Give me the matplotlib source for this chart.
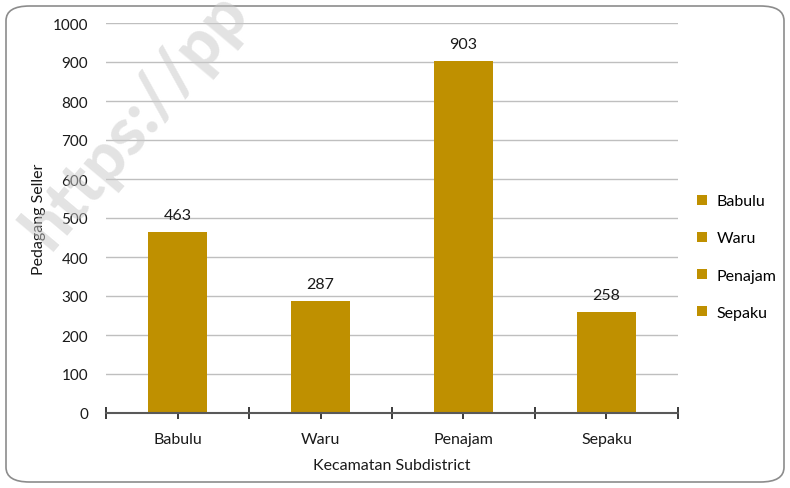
import matplotlib.pyplot as plt
from matplotlib.patches import FancyBboxPatch, Patch
import numpy as np

# data
kecamatan = ['Babulu', 'Waru', 'Penajam', 'Sepaku']
pedagang = [463, 287, 903, 258]
y_ticks = [0, 100, 200, 300, 400, 500, 600, 700, 800, 900, 1000]

warna = '#BF9000'
teks = '#1a1a1a'
plt.rcParams['font.family'] = ['Lato', 'DejaVu Sans']

fig = plt.figure(figsize=(7.9, 4.89), dpi=100)

# rounded frame around the chart
frame = FancyBboxPatch((6 / 790, 6 / 489), 778 / 790, 476 / 489,
                       boxstyle='round,pad=0,rounding_size=0.03',
                       transform=fig.transFigure, fill=False,
                       edgecolor='#8C8C8C', linewidth=1.2)
fig.patches.append(frame)

# watermark (faint, diagonal)
fig.text(50 / 790, 1 - 252 / 489, 'https://pp', rotation=50,
         rotation_mode='anchor', fontsize=48, color='#C8C8C8', alpha=0.5,
         fontweight='black', ha='left', va='baseline', zorder=5)

ax = fig.add_axes([106 / 790, 1 - 414 / 489, 572 / 790, 390 / 489])
ax.patch.set_alpha(0)

x = np.arange(len(kecamatan))
ax.bar(x, pedagang, width=0.41, color=warna, zorder=3)
for xi, v in zip(x, pedagang):
    ax.text(xi, v + 26, str(v), ha='center', va='bottom', fontsize=11.5,
            color=teks)

ax.set_xlim(-0.5, len(kecamatan) - 0.5)
ax.set_ylim(0, 1000)
ax.set_yticks(y_ticks)
ax.tick_params(axis='y', length=0, pad=13, labelsize=11, labelcolor=teks)
ax.yaxis.grid(True, color='#BFBFBF', linewidth=1)
ax.set_axisbelow(True)

# major ticks on category boundaries, labels at centers
ax.set_xticks(np.arange(-0.5, len(kecamatan)), labels=[''] * (len(kecamatan) + 1))
ax.set_xticks(x, labels=kecamatan, minor=True)
ax.tick_params(axis='x', which='major', direction='inout', length=9,
               width=1.2, color=teks)
ax.tick_params(axis='x', which='minor', direction='out', length=4,
               width=1.2, color=teks, pad=10, labelsize=11.5,
               labelcolor=teks)

for s in ['top', 'right', 'left']:
    ax.spines[s].set_visible(False)
ax.spines['bottom'].set_color('#595959')
ax.spines['bottom'].set_linewidth(1.5)
ax.spines['bottom'].set_zorder(4)

ax.set_xlabel('Kecamatan Subdistrict', fontsize=11.5, color=teks, labelpad=8)
ax.set_ylabel('Pedagang Seller', fontsize=11.5, color=teks, labelpad=5)

handles = [Patch(facecolor=warna, edgecolor='none') for _ in kecamatan]
fig.legend(handles, kecamatan, loc='center left',
           bbox_to_anchor=(683 / 790, 1 - 258 / 489), frameon=False,
           fontsize=11.5, handlelength=0.6, handleheight=0.6,
           labelspacing=1.45, handletextpad=0.6)

plt.savefig('out.png', dpi=100)
